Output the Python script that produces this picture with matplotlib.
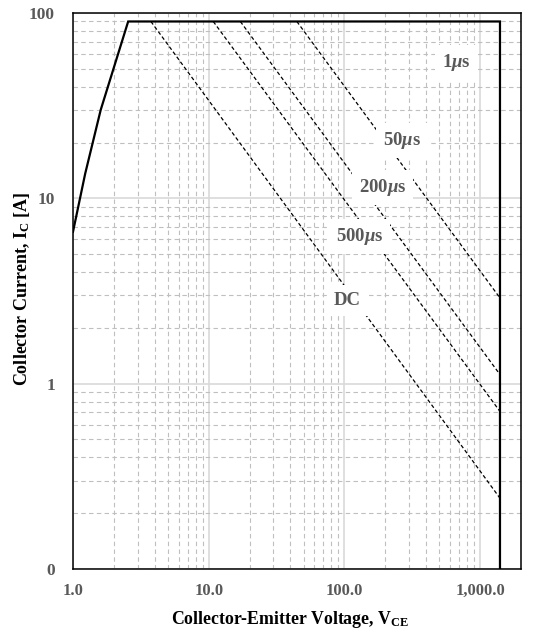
import matplotlib
matplotlib.use("Agg")
import matplotlib.pyplot as plt
from matplotlib.ticker import FuncFormatter, LogLocator, NullFormatter

plt.rcParams["font.family"] = ["Liberation Serif", "DejaVu Serif"]
plt.rcParams["font.weight"] = "bold"
plt.rcParams["mathtext.fontset"] = "custom"
plt.rcParams["mathtext.rm"] = "Liberation Serif:bold"
plt.rcParams["mathtext.bf"] = "Liberation Serif:bold"
plt.rcParams["mathtext.it"] = "Liberation Serif:italic:bold"

# safe operating area outline (V, A)
soa_v = [1.0, 1.23, 1.6, 2.55, 1400, 1400]
soa_i = [6.6, 13.6, 30, 90, 90, 0.1]

# pulse limit lines: start on the 90 A ceiling, end on the 1400 V wall
pulse_v_start = [44.6, 17.1, 10.8, 3.75]
pulse_i_end = [2.9, 1.12, 0.708, 0.241]
i_max = 90
v_max = 1400

label_text = [r"1$\mu$s", r"50$\mu$s", r"200$\mu$s", r"500$\mu$s", "DC"]
label_v = [668, 267, 190, 129, 105]
label_i = [54, 20.5, 11.4, 6.2, 2.8]

gray_txt = "#595959"

fig = plt.figure(figsize=(5.51, 6.33), dpi=100)
ax = fig.add_axes([73 / 551, 1 - 569 / 633, 448 / 551, 556 / 633])
ax.set_xscale("log")
ax.set_yscale("log")
ax.set_xlim(1, 2000)
ax.set_ylim(0.1, 100)

ax.xaxis.set_minor_locator(LogLocator(base=10, subs=range(2, 10), numticks=20))
ax.yaxis.set_minor_locator(LogLocator(base=10, subs=range(2, 10), numticks=20))
ax.xaxis.set_minor_formatter(NullFormatter())
ax.yaxis.set_minor_formatter(NullFormatter())
ax.xaxis.set_major_formatter(FuncFormatter(lambda v, p: f"{v:,.1f}"))
ax.yaxis.set_major_formatter(FuncFormatter(lambda v, p: f"{v:,.0f}"))

ax.grid(which="major", color="#d9d9d9", lw=1.2, ls="-", zorder=0)
ax.grid(which="minor", color="#bfbfbf", lw=0.8, ls=(0, (4, 3)), zorder=0)
ax.set_axisbelow(True)

ax.tick_params(which="both", length=0)
ax.tick_params(axis="x", pad=10, labelsize=12, labelcolor=gray_txt)
ax.tick_params(axis="y", pad=13, labelsize=12.5, labelcolor=gray_txt)
for s in ax.spines.values():
    s.set_color("black")
    s.set_linewidth(1.1)

for vs, ie in zip(pulse_v_start, pulse_i_end):
    ax.plot([vs, v_max], [i_max, ie], color="black", lw=0.9,
            ls=(0, (3, 2)), zorder=2)

ax.plot(soa_v, soa_i, color="black", lw=1.6, zorder=3, solid_joinstyle="miter")

for t, v, i in zip(label_text, label_v, label_i):
    ax.text(v, i, t, ha="center", va="center", fontsize=13.5, color=gray_txt,
            fontweight="bold", zorder=4,
            bbox=dict(facecolor="white", edgecolor="none", pad=5))

fig.text(290 / 551, 1 - 620 / 633, r"Collector-Emitter Voltage, V$_{\mathbf{CE}}$",
         ha="center", va="center", fontsize=12.8, fontweight="bold", color="black")
fig.text(22 / 551, 1 - 289 / 633, r"Collector Current, I$_{\mathbf{C}}$ [A]",
         ha="center", va="center", rotation=90, fontsize=13,
         fontweight="bold", color="black")

fig.savefig("out.png", dpi=100)
